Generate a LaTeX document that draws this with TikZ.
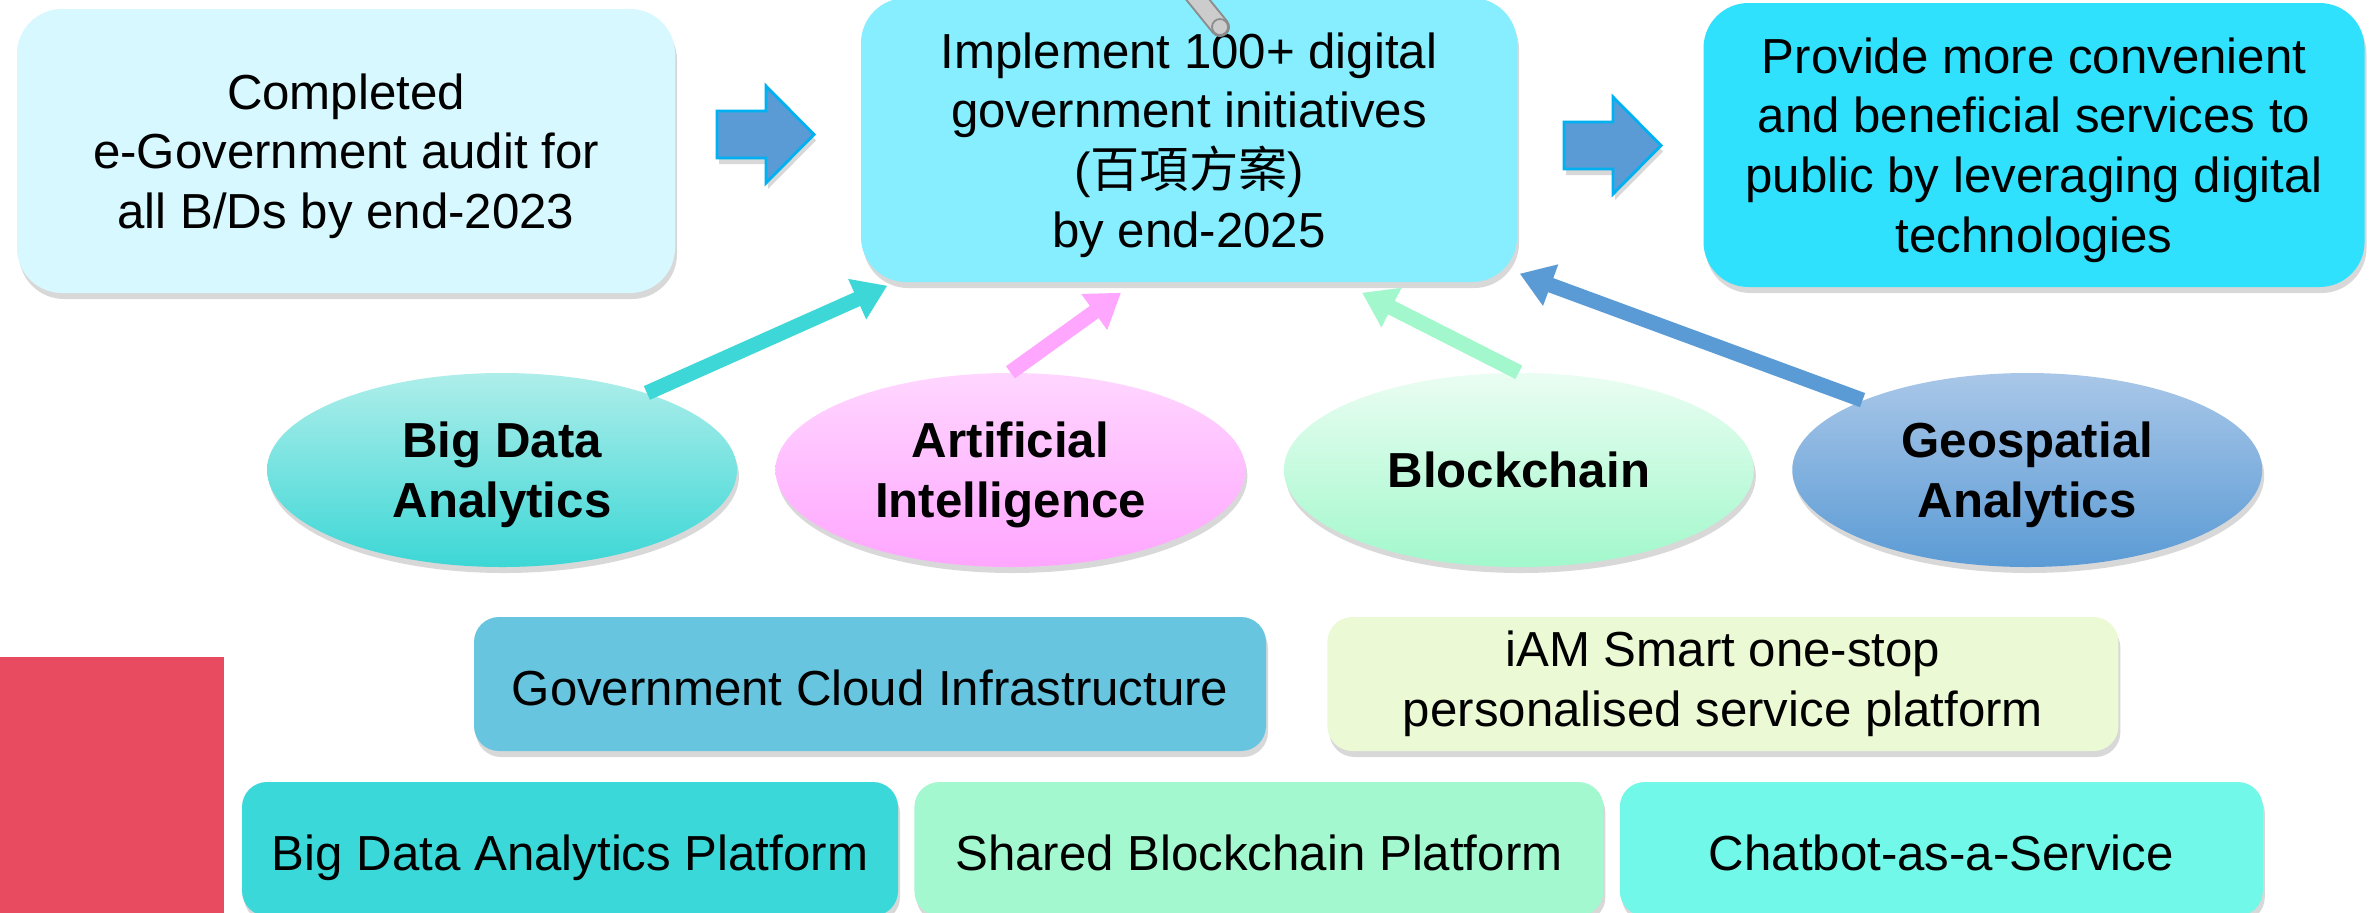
\documentclass[tikz,border=0pt]{standalone}
\usepackage{fontspec}
\setmainfont{Liberation Sans}
\newfontfamily\cjk{Noto Sans CJK TC}
\usetikzlibrary{arrows.meta,positioning,shadows,shapes.geometric}

\definecolor{donefill}{HTML}{D6F8FE}
\definecolor{planfill}{HTML}{86EEFE}
\definecolor{goalfill}{HTML}{30E1FE}
\definecolor{arrowblue}{HTML}{5B9BD5}
\definecolor{arrowedge}{HTML}{00B0F0}
\definecolor{bdatop}{HTML}{AEEEEA}
\definecolor{bdabot}{HTML}{3CD7D6}
\definecolor{aitop}{HTML}{FFD6FF}
\definecolor{aibot}{HTML}{FFA6FF}
\definecolor{chaintop}{HTML}{EAFDF2}
\definecolor{chainbot}{HTML}{A2F8CC}
\definecolor{geotop}{HTML}{A9C7E8}
\definecolor{geobot}{HTML}{5B9BD5}
\definecolor{cloudfill}{HTML}{67C5E0}
\definecolor{iamfill}{HTML}{EBFAD5}
\definecolor{bdpfill}{HTML}{3AD8D8}
\definecolor{sbpfill}{HTML}{A3F8CF}
\definecolor{chatfill}{HTML}{72F8E8}
\definecolor{redbar}{HTML}{E84A5F}

\begin{document}
\begin{tikzpicture}[
		font=\fontsize{14pt}{17pt}\selectfont,
		node distance=0.37cm,
		softshadow/.style={drop shadow={shadow xshift=0.02cm, shadow yshift=-0.06cm, opacity=0.3}},
		goalbox/.style={softshadow, rounded corners=0.45cm, minimum height=2.84cm, align=center, inner sep=0pt, text depth=-1pt},
		tech/.style={ellipse, softshadow, minimum width=4.70cm, minimum height=1.94cm, inner sep=0pt, align=center, text depth=0pt, font=\fontsize{14pt}{17pt}\selectfont\bfseries},
		platform/.style={softshadow, rounded corners=0.25cm, minimum height=1.34cm, inner sep=0pt, align=center},
		oneline/.style={text height=14pt, text depth=2pt},
		feed/.style={line width=0.15cm, -{Triangle[length=0.33cm,width=0.42cm]}},
		blockarrow/.style={softshadow, fill=arrowblue, draw=arrowedge, line width=0.8pt},
	]
		\clip (0,0) rectangle (23.74,-9.12);
		\fill[white] (0,0) rectangle (23.74,-9.12);
		
		\node (done) [goalbox, fill=donefill, minimum width=6.58cm] at (3.46,-1.51) {Completed\\e-Government audit for\\all B/Ds by end-2023};
		\node (plan) [goalbox, fill=planfill, minimum width=6.56cm] at (11.89,-1.40) {Implement 100+ digital\\government initiatives\\({\cjk 百項方案})\\by end-2025};
		\node (goal) [goalbox, fill=goalfill, minimum width=6.61cm] at (20.34,-1.45) {Provide more convenient\\and beneficial services to\\public by leveraging digital\\technologies};
		
		\coordinate (s1) at (7.17,-1.11);
		\coordinate (s2) at (15.64,-1.22);
		\draw[blockarrow] (s1) -- ++(0.49,0) -- ++(0,0.25) -- ++(0.48,-0.485) -- ++(-0.48,-0.485) -- ++(0,0.25) -- ++(-0.49,0) -- cycle;
		\draw[blockarrow] (s2) -- ++(0.49,0) -- ++(0,0.25) -- ++(0.48,-0.485) -- ++(-0.48,-0.485) -- ++(0,0.25) -- ++(-0.49,0) -- cycle;
		
		% pointer
		\draw[line width=0.2cm, black!45, line cap=round] (11.90,0.1) -- (12.20,-0.27);
		\draw[line width=0.16cm, black!20, line cap=round] (11.90,0.1) -- (12.20,-0.27);
		\filldraw[fill=black!20, draw=black!45, line width=0.5pt] (12.20,-0.27) circle (0.08);
		
		\node (bda) [tech, top color=bdatop, bottom color=bdabot] at (5.02,-4.70) {Big Data\\Analytics};
		\node (ai) [tech, top color=aitop, bottom color=aibot, right=of bda] {Artificial\\Intelligence};
		\node (chain) [tech, top color=chaintop, bottom color=chainbot, right=of ai] {Blockchain};
		\node (geo) [tech, top color=geotop, bottom color=geobot, right=of chain] {Geospatial\\Analytics};
		
		\draw[feed, bdabot] (bda.28) -- ([shift={(0.27,-0.03)}]plan.south west);
		\draw[feed, aibot] (ai.north) -- ([shift={(-0.68,-0.10)}]plan.south);
		\draw[feed, chainbot] (chain.north) -- ([shift={(1.73,-0.10)}]plan.south);
		\draw[feed, geobot] (geo.157) -- ([shift={(0.02,0.09)}]plan.south east);
		
		\node (cloud) [platform, oneline, fill=cloudfill, minimum width=7.92cm] at (8.70,-6.84) {Government Cloud Infrastructure};
		\node (iam) [platform, fill=iamfill, minimum width=7.91cm, right=0.60cm of cloud] {iAM Smart one-stop\\personalised service platform};
		\node (bdp) [platform, oneline, fill=bdpfill, minimum width=6.56cm] at (5.70,-8.49) {Big Data Analytics Platform};
		\node (sbp) [platform, oneline, fill=sbpfill, minimum width=6.89cm, right=0.15cm of bdp] {Shared Blockchain Platform};
		\node (chat) [platform, oneline, fill=chatfill, minimum width=6.43cm, right=0.15cm of sbp] {Chatbot-as-a-Service};
		
		\fill[redbar] (0,-6.57) rectangle (2.24,-9.2);
	\end{tikzpicture}
\end{document}
